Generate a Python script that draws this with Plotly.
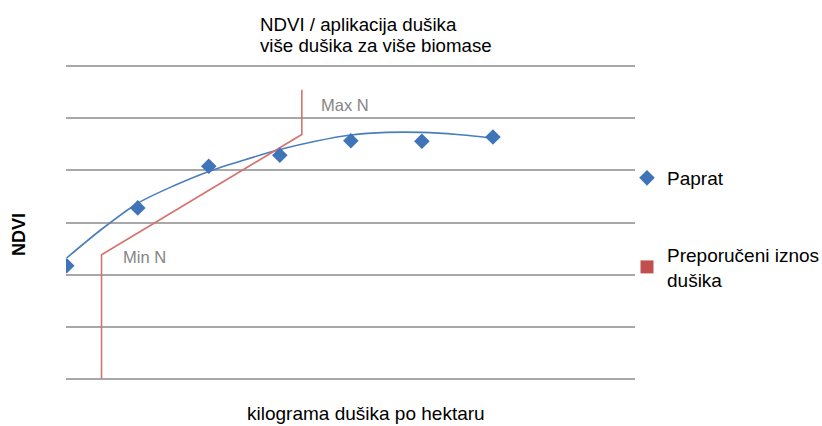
import plotly.graph_objects as go

# Nitrogen application levels (relative steps) and measured NDVI for fern (Paprat)
n_levels = [1, 2, 3, 4, 5, 6, 7]
ndvi_paprat = [2.17, 3.28, 4.08, 4.29, 4.57, 4.56, 4.64]

# Smoothed trend of the NDVI response
trend_x = [1.0, 1.5, 2.0, 2.5, 3.0, 3.5, 4.0, 4.5, 5.0, 5.5, 6.0, 6.5, 7.0]
trend_y = [2.32, 2.88, 3.37, 3.70, 3.98, 4.20, 4.40, 4.56, 4.68, 4.73, 4.73, 4.69, 4.62]

# Recommended nitrogen rate: Min N floor, linear ramp, Max N ceiling
rec_x = [1.49, 1.49, 4.31, 4.31]
rec_y = [0.0, 2.38, 4.69, 5.55]

BLUE = "#3f74b9"
RED_LINE = "#d6726f"
RED_MARK = "#c0504d"
GRID = "#a8a8a8"
LABEL_GREY = "#858585"
FONT = "Liberation Sans, Arial, sans-serif"

# Plot area in pixels: left 66, right 635, top 61, bottom 384
L, R, T, B = 66, 635, 61, 384


def px(x):
    return (x - L) / (R - L)


def py(y):
    return (B - y) / (B - T)


fig = go.Figure()

fig.add_trace(go.Scatter(
    x=trend_x, y=trend_y, mode="lines",
    line=dict(color="#4a7ebb", width=1.6, shape="spline", smoothing=0.8),
    showlegend=False, hoverinfo="skip",
))

fig.add_trace(go.Scatter(
    x=rec_x, y=rec_y, mode="lines",
    line=dict(color=RED_LINE, width=1.6),
    legendgroup="rec", showlegend=False,
))

fig.add_trace(go.Scatter(
    x=n_levels, y=ndvi_paprat, mode="markers", name="Paprat",
    marker=dict(symbol="diamond", size=12, color=BLUE),
    legendgroup="paprat",
))

# Legend entry for the recommended rate, shown as a square swatch
fig.add_trace(go.Scatter(
    x=[None], y=[None], mode="markers", name="Preporučeni iznos<br>dušika",
    marker=dict(symbol="square", size=13, color=RED_MARK),
    legendgroup="rec",
))

fig.update_layout(
    width=822, height=426,
    margin=dict(l=L, r=822 - R, t=T, b=426 - B, autoexpand=False),
    paper_bgcolor="white", plot_bgcolor="white",
    font=dict(family=FONT, color="#000000"),
    showlegend=True,
    legend=dict(
        x=px(627), xanchor="left", y=py(159), yanchor="top",
        font=dict(size=19, family=FONT, color="#000000"),
        tracegroupgap=49, itemwidth=30,
        bgcolor="rgba(0,0,0,0)",
    ),
    xaxis=dict(
        range=[0.99, 9.0], showgrid=False, zeroline=False,
        showticklabels=False, ticks="", showline=False,
    ),
    yaxis=dict(
        range=[-0.1, 6.1], dtick=1, tick0=0, showgrid=True, gridcolor=GRID, gridwidth=2,
        zeroline=False,
        showticklabels=False, ticks="", showline=False,
    ),
    annotations=[
        dict(text="NDVI / aplikacija dušika", xref="paper", yref="paper",
             x=px(258), y=py(24), xanchor="left", yanchor="middle",
             showarrow=False, font=dict(size=18.7, family=FONT)),
        dict(text="više dušika za više biomase", xref="paper", yref="paper",
             x=px(258), y=py(45), xanchor="left", yanchor="middle",
             showarrow=False, font=dict(size=18.7, family=FONT)),
        dict(text="kilograma dušika po hektaru", xref="paper", yref="paper",
             x=px(366), y=py(413), xanchor="center", yanchor="middle",
             showarrow=False, font=dict(size=19, family=FONT)),
        dict(text="<b>NDVI</b>", xref="paper", yref="paper",
             x=px(19), y=py(235), xanchor="center", yanchor="middle",
             textangle=-90, showarrow=False, font=dict(size=18, family=FONT)),
        dict(text="Max N", x=4.92, y=5.25, xref="x", yref="y",
             showarrow=False, font=dict(size=16.5, family=FONT, color=LABEL_GREY)),
        dict(text="Min N", x=2.09, y=2.33, xref="x", yref="y",
             showarrow=False, font=dict(size=16.5, family=FONT, color=LABEL_GREY)),
    ],
)

fig.write_html("out.html")
